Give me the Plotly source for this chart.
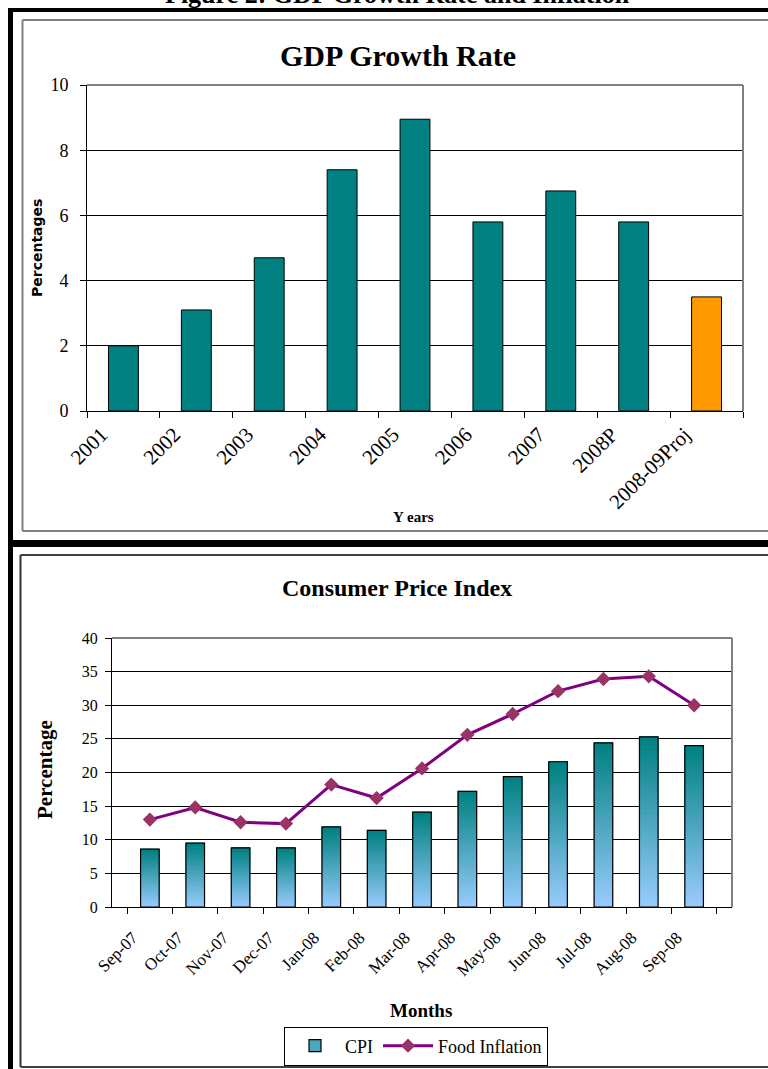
import plotly.graph_objects as go

# ---------------- data ----------------
years = ["2001", "2002", "2003", "2004", "2005", "2006", "2007", "2008P", "2008-09Proj"]
gdp_growth = [2.0, 3.1, 4.7, 7.4, 8.95, 5.8, 6.75, 5.8, 3.5]
gdp_colors = ["#008080"] * 8 + ["#FF9900"]

months = ["Sep-07", "Oct-07", "Nov-07", "Dec-07", "Jan-08", "Feb-08", "Mar-08",
          "Apr-08", "May-08", "Jun-08", "Jul-08", "Aug-08", "Sep-08"]
cpi = [8.6, 9.5, 8.8, 8.8, 11.9, 11.4, 14.1, 17.2, 19.4, 21.6, 24.4, 25.3, 24.0]
food_inflation = [13.0, 14.8, 12.6, 12.4, 18.2, 16.2, 20.6, 25.6, 28.7, 32.1, 33.9, 34.3, 30.0]

W, H = 768, 1069
SERIF = "Liberation Serif"


def px(x):
    return x / W


def py(y):
    return 1 - y / H


fig = go.Figure()

# ---------------- top chart: GDP growth ----------------
fig.add_trace(go.Bar(
    x=years, y=gdp_growth, xaxis="x", yaxis="y",
    marker=dict(color=gdp_colors, line=dict(color="black", width=1)),
    showlegend=False, hoverinfo="x+y",
))

# ---------------- bottom chart: CPI (vertical gradient bars) ----------------
top_rgb = (0, 128, 128)
bot_rgb = (153, 204, 255)
N = 40
for k in range(N):
    t = (k + 0.5) / N  # 0 bottom -> 1 top
    c = "rgb(%d,%d,%d)" % tuple(round(bot_rgb[i] + (top_rgb[i] - bot_rgb[i]) * t) for i in range(3))
    fig.add_trace(go.Bar(
        x=months, y=[v / N for v in cpi], base=[v * k / N for v in cpi],
        xaxis="x2", yaxis="y2",
        marker=dict(color=c, line=dict(width=1, color=c)),
        showlegend=False, hoverinfo="skip",
    ))
# outline of the CPI bars
fig.add_trace(go.Bar(
    x=months, y=cpi, xaxis="x2", yaxis="y2",
    marker=dict(color="rgba(0,0,0,0)", line=dict(color="black", width=1.2)),
    showlegend=False, name="CPI",
))
# legend proxy for CPI
fig.add_trace(go.Bar(
    x=months, y=[None] * len(months), xaxis="x2", yaxis="y2", name="CPI",
    marker=dict(color="#4CA6BF", line=dict(color="black", width=1.2)),
    showlegend=True, hoverinfo="skip",
))
fig.add_trace(go.Scatter(
    x=months, y=food_inflation, xaxis="x2", yaxis="y2", name="Food Inflation",
    mode="lines+markers",
    line=dict(color="#800080", width=3),
    marker=dict(symbol="diamond", size=11, color="#993366"),
))

axis_common = dict(
    showline=True, linecolor="black", linewidth=1,
    ticks="outside", ticklen=6, tickcolor="black", tickwidth=1,
    zeroline=False, fixedrange=True, automargin=False,
)

fig.update_layout(
    width=W, height=H,
    margin=dict(l=0, r=0, t=0, b=0, pad=0),
    paper_bgcolor="white", plot_bgcolor="white",
    barmode="overlay",
    font=dict(family=SERIF, color="black"),
    xaxis=dict(domain=[px(87), px(743)], anchor="y", type="category",
               tickson="boundaries", tickangle=-45, showgrid=False,
               ticklabelshift=-22, ticklabelstandoff=2,
               tickfont=dict(family=SERIF, size=21, color="black"),
               **axis_common),
    yaxis=dict(domain=[py(411), py(85)], anchor="x", range=[0, 10], dtick=2,
               showgrid=True, gridcolor="black", gridwidth=1,
               ticklabelstandoff=8,
               tickfont=dict(family=SERIF, size=18, color="black"),
               **axis_common),
    xaxis2=dict(domain=[px(112), px(732)], anchor="y2", type="category",
                tickson="boundaries", tickangle=-45, showgrid=False,
                ticklabelshift=-17, ticklabelstandoff=13,
                tickfont=dict(family=SERIF, size=17, color="black"),
                **axis_common),
    yaxis2=dict(domain=[py(907), py(638)], anchor="x2", range=[0, 40], dtick=5,
                showgrid=True, gridcolor="black", gridwidth=1,
                ticklabelstandoff=4,
                tickfont=dict(family=SERIF, size=16, color="black"),
                **axis_common),
    bargap=0.59,
    legend=dict(orientation="h", x=px(416), xanchor="center", y=py(1046), yanchor="middle",
                bordercolor="black", borderwidth=1, bgcolor="white",
                font=dict(family=SERIF, size=18, color="black"),
                itemwidth=50, traceorder="normal"),
)

shapes = []
# plot-area borders (top and right, gray)
for xr, yr in (("x", "y"), ("x2", "y2")):
    shapes.append(dict(type="line", xref=xr + " domain", yref=yr + " domain",
                       x0=0, x1=1, y0=1, y1=1, line=dict(color="#808080", width=2), layer="above"))
    shapes.append(dict(type="line", xref=xr + " domain", yref=yr + " domain",
                       x0=1, x1=1, y0=0, y1=1, line=dict(color="#808080", width=2), layer="above"))

# page frame: thick black lines and panel boxes
shapes += [
    dict(type="rect", xref="paper", yref="paper", x0=px(8), x1=1, y0=py(12), y1=py(8),
         fillcolor="black", line=dict(width=0)),
    dict(type="rect", xref="paper", yref="paper", x0=px(8), x1=px(13), y0=0, y1=py(8),
         fillcolor="black", line=dict(width=0)),
    dict(type="rect", xref="paper", yref="paper", x0=px(8), x1=1, y0=py(547), y1=py(540),
         fillcolor="black", line=dict(width=0)),
    dict(type="line", xref="paper", yref="paper", x0=px(22.5), x1=1, y0=py(20), y1=py(20),
         line=dict(color="#808080", width=2)),
    dict(type="line", xref="paper", yref="paper", x0=px(22.5), x1=px(22.5), y0=py(531), y1=py(20),
         line=dict(color="#808080", width=2)),
    dict(type="line", xref="paper", yref="paper", x0=px(22.5), x1=1, y0=py(531), y1=py(531),
         line=dict(color="#808080", width=2)),
    dict(type="line", xref="paper", yref="paper", x0=px(20.5), x1=1, y0=py(555), y1=py(555),
         line=dict(color="#404040", width=2)),
    dict(type="line", xref="paper", yref="paper", x0=px(20.5), x1=px(20.5), y0=py(1067), y1=py(555),
         line=dict(color="#303030", width=2)),
    dict(type="line", xref="paper", yref="paper", x0=px(20.5), x1=1, y0=py(1067), y1=py(1067),
         line=dict(color="#404040", width=2)),
]
fig.update_layout(shapes=shapes)


def ann(text, x, y, size, family=SERIF, angle=0):
    fig.add_annotation(text=text, x=px(x), y=py(y), xref="paper", yref="paper",
                       showarrow=False, textangle=angle, xanchor="center", yanchor="middle",
                       font=dict(family=family, size=size, color="black"))


ann("<b>Figure 2: GDP Growth Rate and Inflation</b>", 397, -5, 26)
ann("<b>GDP Growth Rate</b>", 398, 55, 30)
ann("<b>Percentages</b>", 37, 248, 14, family="DejaVu Sans", angle=-90)
ann("<b>Y ears</b>", 413, 517, 15)
ann("<b>Consumer Price Index</b>", 397, 588, 24)
ann("<b>Percentage</b>", 45, 770, 21, angle=-90)
ann("<b>Months</b>", 421, 1010, 19)

fig.write_html("out.html")
